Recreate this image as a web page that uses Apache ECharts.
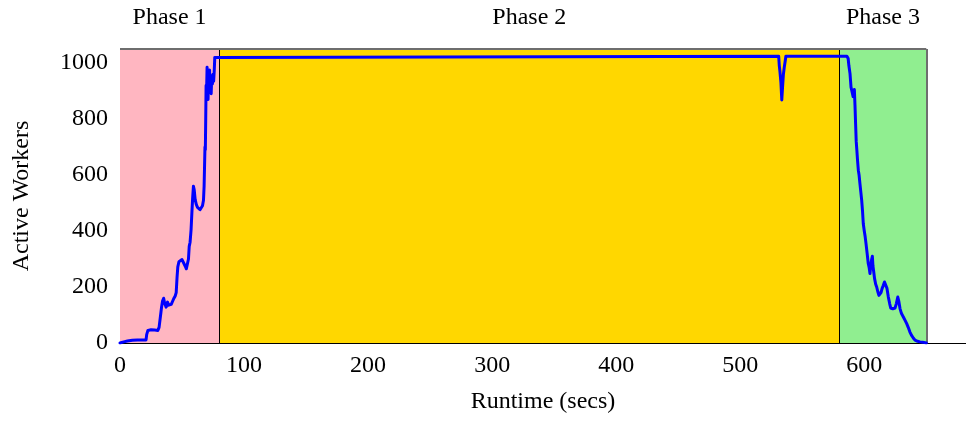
<!DOCTYPE html>
<html>
<head>
<meta charset="utf-8">
<script src="https://cdn.jsdelivr.net/npm/echarts@6/dist/echarts.min.js"></script>
<style>
  html, body { margin: 0; padding: 0; background: #fff; }
  #chart { width: 966px; height: 422px; }
</style>
</head>
<body>
<div id="chart"></div>
<script>
// Runtime samples (seconds) and the number of active workers at each sample
const runtimeSecs = [
  0, 3, 6, 10, 14, 18, 21, 21.5, 22.5, 25, 28, 29.5, 30.5, 31.5, 32.3, 33, 33.5, 34.3, 35.2, 36,
  37.2, 38.3, 39.3, 40.3, 41.3, 42.5, 43.5, 44.5, 45.3, 46, 46.6, 47.5, 48.5, 50, 51.5, 52.5, 53.5,
  54.5, 55.2, 55.8, 56.5, 57.3, 58, 58.6, 59.2, 59.8, 60.6, 61.5, 62.5, 63.5, 64.5, 65.5, 66.5,
  67.3, 67.8, 68.2, 68.5, 68.8, 69.1, 69.4, 69.8, 70.2, 70.6, 71, 71.4, 71.8, 72.2, 72.6, 73, 73.5,
  74, 74.5, 75, 75.5, 76, 76.4, 77, 77.7,
  531, 531.5, 532, 532.8, 533.5, 534.2, 534.8, 535.5, 536.2, 536.8,
  586, 587, 587.6, 588.5, 589.3, 590, 591, 592, 592.5, 593, 593.5, 594, 594.6, 595.2, 595.8, 596.5,
  597.2, 597.9, 598.6, 599.2, 600, 600.7, 601.4, 602.3, 603.2, 603.9, 604.6, 605.3, 606, 606.5, 607,
  607.5, 608.3, 609.2, 610, 611, 611.8, 612.7, 613.5, 614.4, 615.3, 616.3, 617.3, 618.3, 619.4,
  620.5, 621.3, 622, 623, 624, 624.8, 625.8, 627, 627.8, 628.8, 630, 631.5, 633, 634.2, 635.5,
  636.8, 638, 639.5, 640.9, 643, 645, 647, 650
];
const activeWorkers = [
  0, 4, 7, 10, 11, 11, 11, 30, 45, 47, 46, 52, 45, 56, 62, 110, 128, 150, 160, 142,
  128, 146, 135, 142, 138, 150, 160, 168, 180, 235, 272, 290, 296, 298, 292, 275, 265,
  272, 300, 345, 360, 405, 470, 520, 560, 548, 512, 495, 484, 478, 476, 480, 490,
  510, 560, 640, 700, 690, 800, 920, 900, 985, 940, 870, 960, 920, 975, 900, 940, 890,
  955, 925, 960, 935, 975, 1020, 1024, 1024,
  1024, 990, 970, 930, 868, 920, 960, 985, 1005, 1024,
  1024, 1016, 990, 962, 914, 900, 880, 905, 850, 783, 720, 690, 650, 617, 600, 569,
  540, 510, 470, 426, 400, 380, 355, 320, 284, 270, 248, 280, 300, 310, 275,
  258, 230, 210, 200, 182, 170, 164, 180, 195, 205, 218, 224, 195, 164,
  140, 125, 119, 122, 118, 125, 140, 164, 150, 123, 105, 93, 80, 69, 55,
  39, 28, 18, 10, 6, 4, 3, 0
];

// Phase names with their start/end times and background fills
const phaseNames = ['Phase 1', 'Phase 2', 'Phase 3'];
const phaseBounds = [[0, 80], [80, 580], [580, 650]];
const phaseColors = ['#ffb6c1', '#ffd700', '#90ee90'];

const xTicks = [0, 100, 200, 300, 400, 500, 600];
const yTicks = [0, 200, 400, 600, 800, 1000];
const xMax = 682;
const yMax = 1050;

const FONT = '"Liberation Serif", "Times New Roman", serif';
const FONT_SIZE = 24;

const points = runtimeSecs.map((t, i) => [t, activeWorkers[i]]);

const areas = phaseNames.map((name, i) => [
  { name: name, xAxis: phaseBounds[i][0], itemStyle: { color: phaseColors[i] } },
  { xAxis: phaseBounds[i][1] }
]);

const lastEnd = phaseBounds[phaseBounds.length - 1][1];
const boundaryLines = phaseBounds.slice(1).map(b => [
  { coord: [b[0], 0], lineStyle: { color: '#000', width: 1, type: 'solid' } },
  { coord: [b[0], yMax] }
]);
const frameStyle = { color: '#6e6e6e', width: 2, type: 'solid' };
const frameLines = [
  [{ coord: [0, yMax], lineStyle: frameStyle }, { coord: [lastEnd, yMax] }],
  [{ coord: [lastEnd, 0], lineStyle: frameStyle }, { coord: [lastEnd, yMax] }]
];

const chart = echarts.init(document.getElementById('chart'), null, { renderer: 'canvas' });
chart.setOption({
  animation: false,
  backgroundColor: '#fff',
  textStyle: { fontFamily: FONT },
  grid: { left: 120, right: 0, top: 49, bottom: 79 },
  xAxis: {
    type: 'value',
    min: 0,
    max: xMax,
    name: 'Runtime (secs)',
    nameLocation: 'middle',
    nameGap: 47,
    nameTextStyle: { fontFamily: FONT, fontSize: FONT_SIZE, color: '#000' },
    axisLine: { show: true, lineStyle: { color: '#000', width: 1 } },
    axisTick: { show: true, inside: true, length: 10, customValues: xTicks, lineStyle: { color: '#000' } },
    axisLabel: {
      customValues: xTicks, margin: 11, fontFamily: FONT, fontSize: FONT_SIZE, color: '#000',
      formatter: v => String(v)
    },
    splitLine: { show: false }
  },
  yAxis: {
    type: 'value',
    min: 0,
    max: yMax,
    name: 'Active Workers',
    nameLocation: 'middle',
    nameGap: 86,
    nameTextStyle: { fontFamily: FONT, fontSize: FONT_SIZE, color: '#000' },
    axisLine: { show: true, lineStyle: { color: '#000', width: 1 } },
    axisTick: { show: true, inside: true, length: 10, customValues: yTicks, lineStyle: { color: '#000' } },
    axisLabel: {
      customValues: yTicks, margin: 12, fontFamily: FONT, fontSize: FONT_SIZE, color: '#000',
      formatter: v => String(v)
    },
    splitLine: { show: false }
  },
  series: [{
    type: 'line',
    data: points,
    showSymbol: false,
    symbol: 'none',
    lineStyle: { color: '#0000ff', width: 3, join: 'round', cap: 'round' },
    z: 5,
    markArea: {
      silent: true,
      label: {
        show: true,
        position: 'top',
        distance: 19,
        fontFamily: FONT,
        fontSize: FONT_SIZE,
        color: '#000'
      },
      data: areas
    },
    markLine: {
      silent: true,
      symbol: 'none',
      label: { show: false },
      data: boundaryLines.concat(frameLines)
    }
  }]
});
</script>
</body>
</html>
